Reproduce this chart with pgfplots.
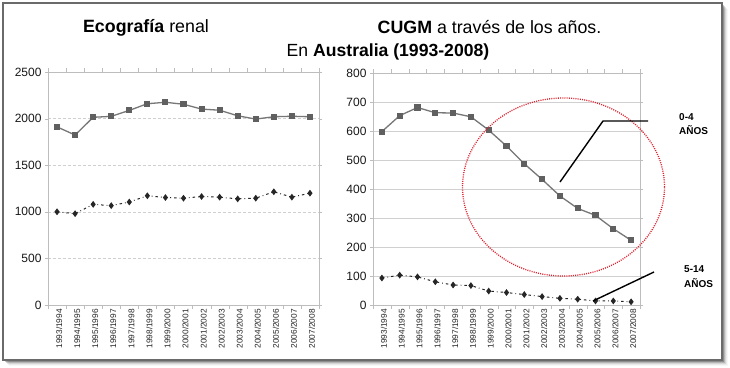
\documentclass[border=0pt]{standalone}
\usepackage{pgfplots}
\pgfplotsset{compat=1.18}
\usepackage{fontspec}
\setmainfont{Liberation Sans}
\definecolor{framec}{HTML}{6A6A6A}
\definecolor{axc}{HTML}{BDBDBD}
\definecolor{gridc}{HTML}{D0D0D0}
\definecolor{sqline}{HTML}{777777}
\definecolor{sqmark}{HTML}{606060}
\definecolor{ellc}{HTML}{E0202E}
\pgfplotsset{
  myax/.style={
    scale only axis, anchor=south west,
    xmin=-0.5, xmax=14.5, ymin=0,
    xtick={0,...,14},
    xticklabels={1993/1994,1994/1995,1995/1996,1996/1997,1997/1998,1998/1999,1999/2000,2000/2001,2001/2002,2002/2003,2003/2004,2004/2005,2005/2006,2006/2007,2007/2008},
    x tick label style={rotate=90, anchor=east, font=\fontsize{8.3}{9}\selectfont, text=black!85, inner sep=1pt, xshift=0pt, yshift=-2pt},
    y tick label style={font=\fontsize{12}{13}\selectfont, text=black!90},
    major x tick style={draw=none},
    minor xtick={-0.5,0.5,...,14.5},
    minor x tick style={axc},
    major y tick style={axc},
    tick align=outside, major tick length=3pt, minor tick length=4pt,
    axis line style={axc},
    ymajorgrids,
    /pgf/number format/assume math mode=true,
    /pgf/number format/1000 sep={},
    clip=false,
  },
  upper/.style={sqline, line width=1.3pt, mark=square*, mark size=2.4pt, mark options={solid, fill=sqmark, draw=sqmark}},
  lower/.style={black!85, line width=1pt, dash pattern=on 2.5pt off 3pt on 0.8pt off 3pt, mark=diamond*, mark size=2.6pt, mark options={solid, fill=black!85, draw=black!85}},
}
\begin{document}
\begin{tikzpicture}[x=1pt,y=1pt]
\useasboundingbox (0,0) rectangle (730,367);
% shadow
\foreach \i/\op in {1/0.30,2/0.22,3/0.15,4/0.09,5/0.05,6/0.03}{
  \fill[black,opacity=\op] (3+\i,1-\i+6) rectangle (722+\i,364-\i);
}
\draw[framec, line width=2.6pt, fill=white] (3,364) rectangle (722,7);

% titles
\node[anchor=base, inner sep=0] at (146,334) {\fontsize{17.8}{20}\selectfont\textbf{Ecografía} renal};
\node[anchor=base, inner sep=0] at (489.5,333) {\fontsize{17.8}{20}\selectfont\textbf{CUGM} a través de los años.};
\node[anchor=base, inner sep=0] at (388,310) {\fontsize{17.6}{20}\selectfont En \textbf{Australia (1993-2008)}};

% left axis
\begin{axis}[myax, at={(48pt,62pt)}, width=271pt, height=233pt,
  ymax=2500, ytick={0,500,...,2500},
  grid style={gridc, dash pattern=on 3pt off 2pt}]
\addplot[upper] coordinates {(0,1911)(1,1824)(2,2014)(3,2024)(4,2088)(5,2160)(6,2175)(7,2154)(8,2102)(9,2090)(10,2030)(11,1995)(12,2020)(13,2025)(14,2020)};
\addplot[lower] coordinates {(0,1000)(1,980)(2,1080)(3,1066)(4,1105)(5,1172)(6,1153)(7,1146)(8,1164)(9,1157)(10,1139)(11,1146)(12,1215)(13,1157)(14,1200)};
\end{axis}

% right axis
\begin{axis}[myax, at={(373pt,62pt)}, width=267pt, height=232pt,
  ymax=800, ytick={0,100,...,800},
  grid style={gridc}]
\addplot[upper] coordinates {(0,598)(1,653)(2,681)(3,663)(4,662)(5,649)(6,603)(7,548)(8,487)(9,433)(10,376)(11,333)(12,309)(13,263)(14,223)};
\addplot[lower] coordinates {(0,93)(1,103)(2,97)(3,80)(4,69)(5,67)(6,48)(7,43)(8,36)(9,29)(10,23)(11,20)(12,14)(13,14)(14,11)};
\end{axis}

% annotations
\draw[ellc, line width=1.3pt, dash pattern=on 1pt off 1.2pt] (563.5,180) ellipse [x radius=101, y radius=89];
\draw[black, line width=1.4pt] (560,185) -- (603,246) -- (648,246);
\draw[black, line width=1.4pt] (654,95) -- (593,66);
\node[anchor=base west, inner sep=0, font=\fontsize{10}{12}\selectfont\bfseries] at (679,246) {0-4};
\node[anchor=base west, inner sep=0, font=\fontsize{10}{12}\selectfont\bfseries] at (679,232) {AÑOS};
\node[anchor=base west, inner sep=0, font=\fontsize{10}{12}\selectfont\bfseries] at (684,95) {5-14};
\node[anchor=base west, inner sep=0, font=\fontsize{10}{12}\selectfont\bfseries] at (684,80) {AÑOS};
\end{tikzpicture}
\end{document}
